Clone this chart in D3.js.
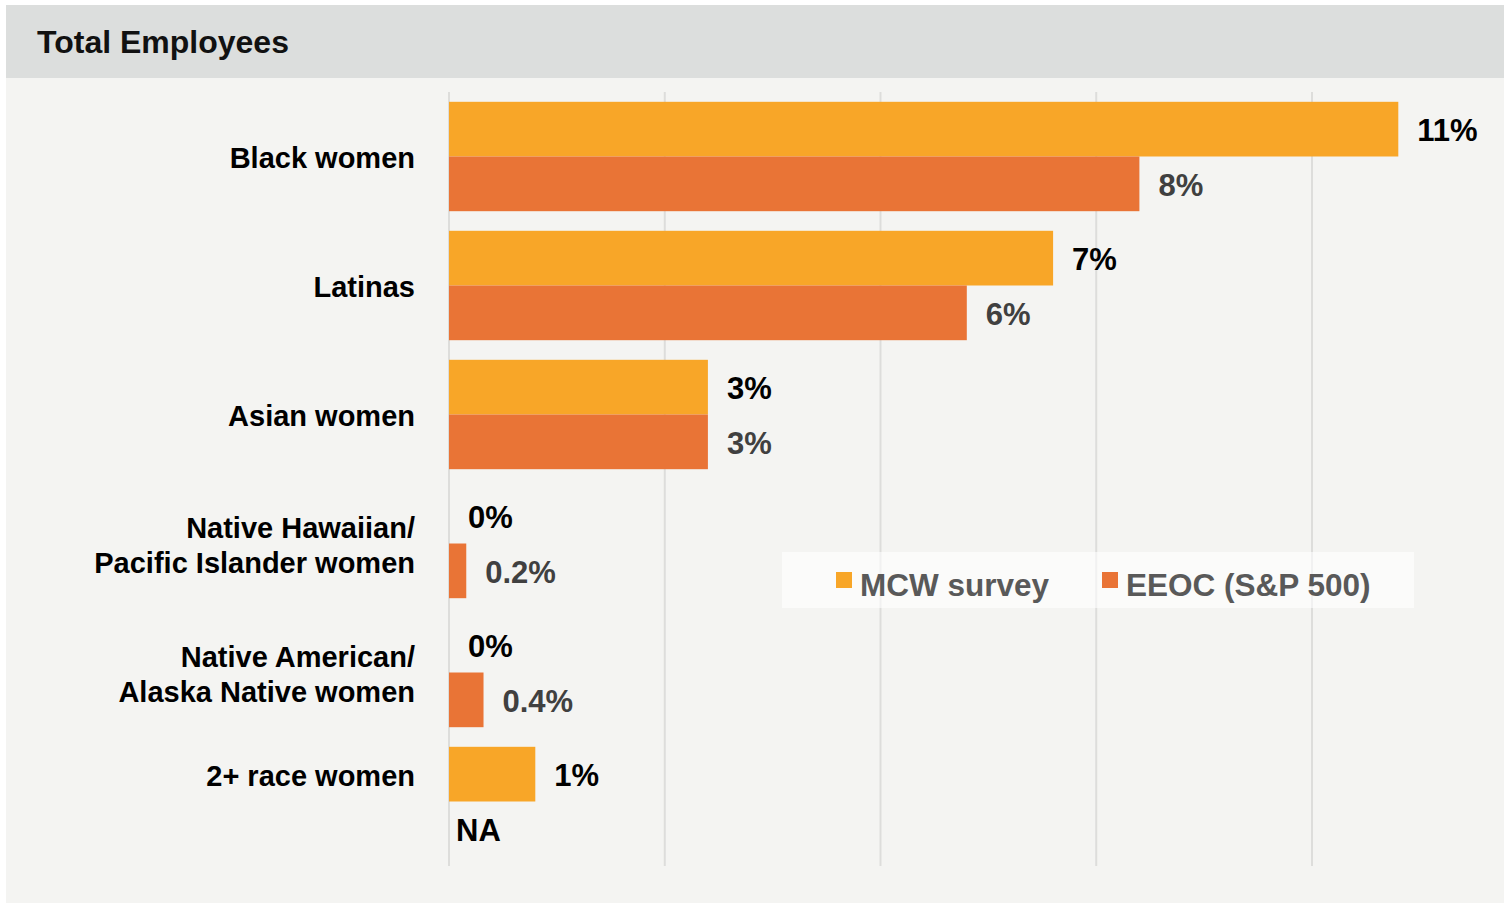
<!DOCTYPE html>
<html>
<head>
<meta charset="utf-8">
<script src="https://cdn.jsdelivr.net/npm/d3@7"></script>
<style>
  html, body { margin: 0; padding: 0; background: #ffffff; }
  svg { display: block; }
  text { font-family: "Liberation Sans", Arial, Helvetica, sans-serif; font-weight: bold; }
</style>
</head>
<body>
<svg id="chart" width="1504" height="903"></svg>
<script>
// Share of total employees by group, in percent
const categories = [
  "Black women",
  "Latinas",
  "Asian women",
  "Native Hawaiian/\nPacific Islander women",
  "Native American/\nAlaska Native women",
  "2+ race women"
];
const seriesNames = ["MCW survey", "EEOC (S&P 500)"];
const mcwValues  = [11, 7, 3, 0, 0, 1];
const eeocValues = [8, 6, 3, 0.2, 0.4, null];   // null: not available
const gridTicks  = [0, 2.5, 5, 7.5, 10];

const colors = { "MCW survey": "#F8A628", "EEOC (S&P 500)": "#E97436" };
const labelColors = { "MCW survey": "#000000", "EEOC (S&P 500)": "#404040" };

const svg = d3.select("#chart");

// Panel backgrounds
svg.append("rect").attr("x", 6).attr("y", 78).attr("width", 1498).attr("height", 825).attr("fill", "#F4F4F2");
svg.append("rect").attr("x", 6).attr("y", 5).attr("width", 1498).attr("height", 73).attr("fill", "#DCDEDD");
svg.append("text").attr("x", 37).attr("y", 53).attr("font-size", 32).attr("fill", "#111")
  .text("Total Employees");

// Scales
const x = d3.scaleLinear().domain([0, 10]).range([449, 1312]);
const y = d3.scaleBand().domain(categories).range([92, 866]).paddingInner(0.152).paddingOuter(0.076);
const ySub = d3.scaleBand().domain(seriesNames).range([0, y.bandwidth()]);

// Vertical gridlines
svg.append("g").selectAll("line").data(gridTicks).join("line")
  .attr("x1", d => x(d)).attr("x2", d => x(d))
  .attr("y1", 92).attr("y2", 866)
  .attr("stroke", "#DDDDDB").attr("stroke-width", 2);

// Bar data
const rows = [];
categories.forEach((c, i) => {
  rows.push({ cat: c, series: seriesNames[0], value: mcwValues[i] });
  rows.push({ cat: c, series: seriesNames[1], value: eeocValues[i] });
});

// Category labels (may wrap onto two lines), centred on the series that have data
const catG = svg.append("g");
categories.forEach(c => {
  const lines = c.split("\n");
  const present = rows.filter(r => r.cat === c && r.value !== null);
  const cy = d3.mean(present, r => y(c) + ySub(r.series) + ySub.bandwidth() / 2);
  const lh = 35;
  const t = catG.append("text")
    .attr("text-anchor", "end").attr("font-size", 29).attr("fill", "#000");
  lines.forEach((ln, i) => {
    t.append("tspan")
      .attr("x", 415)
      .attr("y", cy + 11.5 + (i - (lines.length - 1) / 2) * lh)
      .text(ln);
  });
});

const barG = svg.append("g");
barG.selectAll("rect").data(rows.filter(r => r.value !== null && r.value > 0)).join("rect")
  .attr("x", x(0))
  .attr("y", r => y(r.cat) + ySub(r.series))
  .attr("width", r => x(r.value) - x(0))
  .attr("height", ySub.bandwidth())
  .attr("fill", r => colors[r.series]);

// Value labels
barG.selectAll("text").data(rows).join("text")
  .attr("x", r => r.value === null ? x(0) + 7 : x(r.value) + 19)
  .attr("y", r => y(r.cat) + ySub(r.series) + ySub.bandwidth() / 2 + 12)
  .attr("font-size", 31)
  .attr("fill", r => r.value === null ? "#000" : labelColors[r.series])
  .text(r => r.value === null ? "NA" : r.value + "%");

// Legend
const lg = svg.append("g");
lg.append("rect").attr("x", 782).attr("y", 552).attr("width", 632).attr("height", 56)
  .attr("fill", "#ffffff").attr("fill-opacity", 0.6);
const legendX = [836, 1102];
seriesNames.forEach((s, i) => {
  lg.append("rect").attr("x", legendX[i]).attr("y", 572).attr("width", 16).attr("height", 16)
    .attr("fill", colors[s]);
  lg.append("text").attr("x", legendX[i] + 24).attr("y", 596)
    .attr("font-size", 31.5).attr("fill", "#595959").text(s);
});
</script>
</body>
</html>
